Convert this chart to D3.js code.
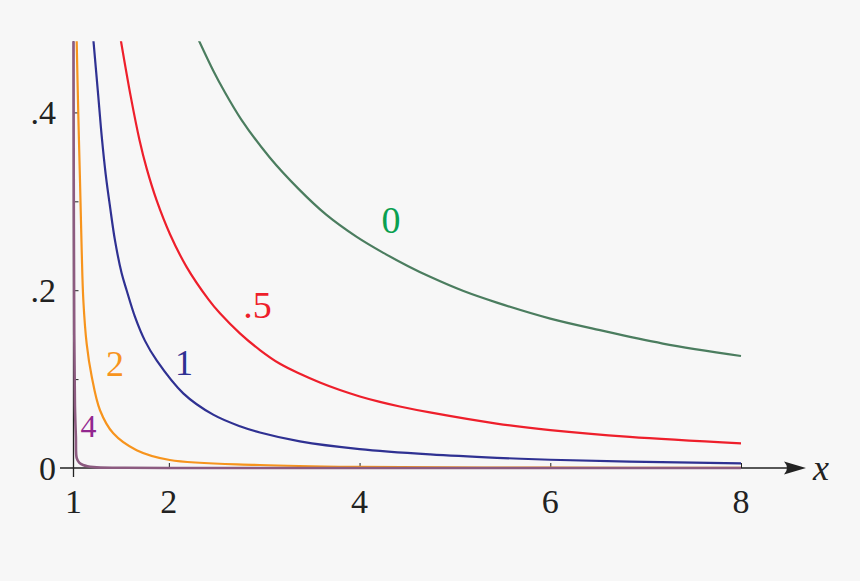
<!DOCTYPE html>
<html>
<head>
<meta charset="utf-8">
<script src="https://cdn.jsdelivr.net/npm/d3@7"></script>
<style>
  html, body { margin: 0; padding: 0; background: #f7f7f7; }
  svg { display: block; }
  text { font-family: "Liberation Serif", "Tinos", "Times New Roman", "DejaVu Serif", "Noto Serif", serif; }
</style>
</head>
<body>
<div id="chart"></div>
<script>
// values
const xGreen = [2.31, 2.47, 2.57, 2.76, 3.06, 3.36, 3.65, 3.97, 4.25, 4.51, 4.74, 5.09, 5.44, 6.00, 6.48, 7.18, 8.00];
const yGreen = [0.482, 0.446, 0.426, 0.392, 0.349, 0.314, 0.285, 0.260, 0.242, 0.227, 0.215, 0.199, 0.186, 0.168, 0.156, 0.140, 0.126];

const xRed = [1.495, 1.60, 1.692, 1.767, 1.872, 2.012, 2.187, 2.413, 2.536, 2.745, 2.955, 3.165, 3.374, 3.584, 3.794, 4.003, 4.213, 4.422, 4.737, 5.436, 6.00, 6.833, 8.00];
const yRed = [0.482, 0.418, 0.369, 0.337, 0.301, 0.263, 0.226, 0.190, 0.174, 0.1515, 0.1327, 0.1172, 0.1060, 0.0962, 0.0877, 0.0805, 0.0744, 0.0692, 0.0625, 0.0500, 0.0427, 0.0350, 0.0278];

const xBlue = [1.208, 1.26, 1.296, 1.337, 1.383, 1.435, 1.505, 1.557, 1.645, 1.75, 1.872, 2.151, 2.465, 2.745, 2.955, 3.374, 4.00, 4.74, 5.44, 6.00, 6.83, 8.00];
const yBlue = [0.482, 0.418, 0.373, 0.331, 0.294, 0.256, 0.219, 0.200, 0.170, 0.143, 0.121, 0.084, 0.060, 0.047, 0.040, 0.030, 0.0213, 0.0153, 0.0115, 0.0093, 0.0072, 0.0053];

const xOrange = [1.033, 1.05, 1.068, 1.086, 1.103, 1.138, 1.191, 1.278, 1.417, 1.662, 2.01, 2.955, 4.0, 6.0, 8.0];
const yOrange = [0.482, 0.399, 0.324, 0.245, 0.189, 0.140, 0.103, 0.065, 0.039, 0.020, 0.009, 0.0034, 0.0012, 0.0004, 0.0002];

const xPurple = [1.0, 1.003, 1.008, 1.015, 1.025, 1.034, 1.06, 1.10, 1.21, 1.5, 2.0, 4.0, 8.0];
const yPurple = [0.482, 0.30, 0.15, 0.07, 0.035, 0.011, 0.006, 0.0034, 0.001, 0.0003, 0.0, 0.0, 0.0];

const seriesNames = ['0', '.5', '1', '2', '4'];
// label anchor (x, baseline y) in data units
const labelX = [4.33, 2.93, 2.16, 1.435, 1.157];
const labelY = [0.264, 0.169, 0.105, 0.103, 0.035];

const xTickValues = [1, 2, 4, 6, 8];
const xTickLabels = ['1', '2', '4', '6', '8'];
const yTickValues = [0, 0.2, 0.4];
const yTickLabels = ['0', '.2', '.4'];
const yMinorTicks = [0.1, 0.2, 0.3, 0.4];

const width = 860, height = 581;

const lineColor = { '0': '#4b7d5f', '.5': '#ee1f2b', '1': '#2f3192', '2': '#f7941d', '4': '#8c5b80' };
const textColor = { '0': '#0aa050', '.5': '#ee1f2b', '1': '#2f3192', '2': '#f7941d', '4': '#92278f' };
const textSize = { '0': 38, '.5': 38, '1': 36, '2': 36, '4': 32 };

const series = [
  { name: '0', xs: xGreen, ys: yGreen },
  { name: '.5', xs: xRed, ys: yRed },
  { name: '1', xs: xBlue, ys: yBlue },
  { name: '2', xs: xOrange, ys: yOrange },
  { name: '4', xs: xPurple, ys: yPurple }
];

const x = d3.scaleLinear().domain([1, 8]).range([73.5, 741]);
const y = d3.scaleLinear().domain([0, 0.48]).range([468, 41.3]);

const svg = d3.select('#chart').append('svg')
    .attr('width', width)
    .attr('height', height);

svg.append('rect').attr('width', width).attr('height', height).attr('fill', '#f7f7f7');

svg.append('clipPath').attr('id', 'plot')
  .append('rect')
    .attr('x', x(1) - 3).attr('y', y(0.48))
    .attr('width', x(8) - x(1) + 6).attr('height', y(0) - y(0.48) + 3);

const ink = '#222';

// x axis line with arrow
svg.append('line')
    .attr('x1', 60).attr('x2', 796)
    .attr('y1', y(0)).attr('y2', y(0))
    .attr('stroke', ink).attr('stroke-width', 1.3);

const tipX = 806, ay = y(0);
svg.append('path')
    .attr('d', `M${tipX},${ay} L${tipX - 22},${ay - 6.5} Q${tipX - 16},${ay} ${tipX - 22},${ay + 6.5} Z`)
    .attr('fill', ink);

svg.append('text')
    .attr('x', 821).attr('y', ay + 12)
    .attr('text-anchor', 'middle')
    .attr('font-style', 'italic')
    .attr('font-size', 36)
    .attr('fill', ink)
    .text('x');

// y axis line
svg.append('line')
    .attr('x1', x(1)).attr('x2', x(1))
    .attr('y1', y(0) + 9).attr('y2', y(0.48))
    .attr('stroke', ink).attr('stroke-width', 1.3);

// small ticks
const xTicks = d3.axisTop(x).tickValues([2, 4, 6, 8]).tickSize(5).tickFormat('');
svg.append('g')
    .attr('transform', `translate(0,${y(0)})`)
    .call(xTicks)
    .call(g => g.select('.domain').remove())
    .call(g => g.selectAll('line').attr('stroke', ink).attr('stroke-width', 1));

const yTicks = d3.axisRight(y).tickValues(yMinorTicks).tickSize(5).tickFormat('');
svg.append('g')
    .attr('transform', `translate(${x(1)},0)`)
    .call(yTicks)
    .call(g => g.select('.domain').remove())
    .call(g => g.selectAll('line').attr('stroke', ink).attr('stroke-width', 1));

// tick labels
svg.selectAll('.xlab')
  .data(xTickValues)
  .enter().append('text')
    .attr('class', 'xlab')
    .attr('x', d => x(d))
    .attr('y', y(0) + 45)
    .attr('text-anchor', 'middle')
    .attr('font-size', 34)
    .attr('fill', ink)
    .text((d, i) => xTickLabels[i]);

svg.selectAll('.ylab')
  .data(yTickValues)
  .enter().append('text')
    .attr('class', 'ylab')
    .attr('x', 56)
    .attr('y', d => y(d) + 12)
    .attr('text-anchor', 'end')
    .attr('font-size', 34)
    .attr('fill', ink)
    .text((d, i) => yTickLabels[i]);

// curves
const line = d3.line()
    .x(d => x(d[0]))
    .y(d => y(d[1]))
    .curve(d3.curveCatmullRom.alpha(0.5));

const curves = svg.append('g').attr('clip-path', 'url(#plot)');

series.forEach(s => {
  const pts = s.xs.map((v, i) => [v, s.ys[i]]);
  curves.append('path')
      .attr('d', line(pts))
      .attr('fill', 'none')
      .attr('stroke', lineColor[s.name])
      .attr('stroke-width', s.name === '4' ? 2.6 : 2.2)
      .attr('stroke-linejoin', 'round');
});

// curve labels
svg.selectAll('.clab')
  .data(seriesNames)
  .enter().append('text')
    .attr('class', 'clab')
    .attr('x', (d, i) => x(labelX[i]))
    .attr('y', (d, i) => y(labelY[i]))
    .attr('text-anchor', 'middle')
    .attr('font-size', d => textSize[d])
    .attr('fill', d => textColor[d])
    .text(d => d);
</script>
</body>
</html>
